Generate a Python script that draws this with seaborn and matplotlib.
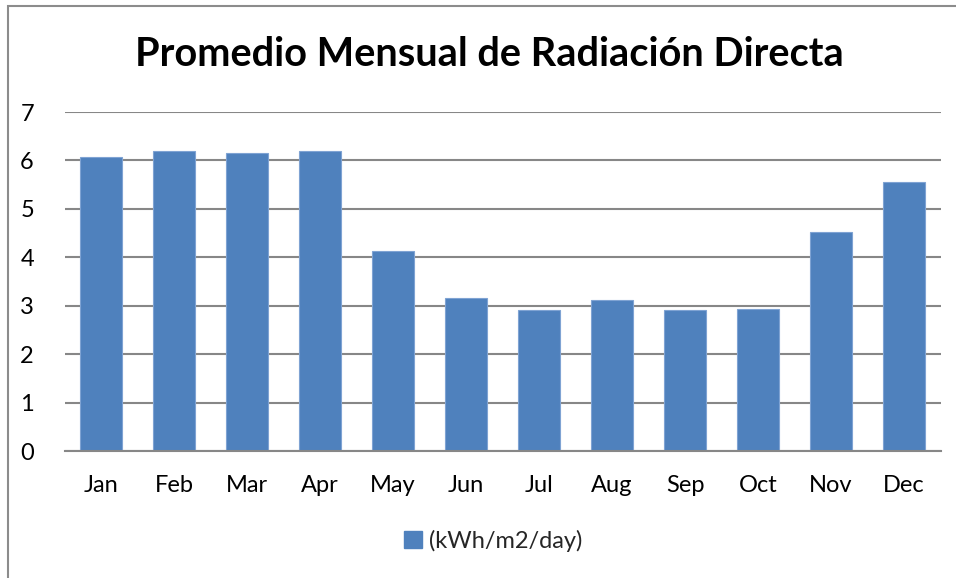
import matplotlib
matplotlib.use("Agg")
import matplotlib.pyplot as plt
import seaborn as sns
import pandas as pd
from matplotlib.patches import Rectangle, Patch

months = ["Jan", "Feb", "Mar", "Apr", "May", "Jun", "Jul", "Aug", "Sep", "Oct", "Nov", "Dec"]
values = [6.08, 6.20, 6.16, 6.19, 4.13, 3.16, 2.91, 3.12, 2.91, 2.93, 4.53, 5.55]
series_name = "(kWh/m2/day)"
title = "Promedio Mensual de Radiación Directa"
yticks = [0, 1, 2, 3, 4, 5, 6, 7]

sns.set_theme(style="white")
plt.rcParams["font.family"] = ["Lato", "DejaVu Sans"]

df = pd.DataFrame({"month": months, "value": values})

fig = plt.figure(figsize=(9.56, 5.78), dpi=100)
ax = fig.add_axes([64.5 / 956, 1 - 451 / 578, (940.5 - 64.5) / 956, (451 - 112) / 578])

bar_color = "#4F81BD"
sns.barplot(data=df, x="month", y="value", color=bar_color, width=0.58,
            saturation=1, ax=ax, edgecolor="#7FA3D3", linewidth=0.8)

ax.set_ylim(0, 7)
ax.set_yticks(yticks)
ax.set_yticklabels([str(t) for t in yticks], fontsize=17, color="black")
ax.set_xticklabels(months, fontsize=17, color="black")
ax.set_xlabel("")
ax.set_ylabel("")
ax.yaxis.grid(True, color="#878787", linewidth=1.5)
ax.set_axisbelow(True)
for s in ["top", "right", "left"]:
    ax.spines[s].set_visible(False)
ax.spines["bottom"].set_color("#878787")
ax.spines["bottom"].set_linewidth(1.5)
ax.tick_params(axis="y", length=0, pad=22)
ax.tick_params(axis="x", length=0, pad=17)

fig.text(489 / 956, 1 - 55 / 578, title, ha="center", va="center",
         fontsize=28.6, fontweight="bold", color="black")

handle = Patch(facecolor=bar_color, edgecolor=bar_color)
fig.legend([handle], [series_name], loc="center", bbox_to_anchor=(493 / 956, 1 - 541 / 578),
           frameon=False, fontsize=17, handlelength=0.75, handleheight=0.75, handletextpad=0.3)

fig.patches.append(Rectangle((8 / 956, -0.01), 1.0, 1 - 6 / 578 + 0.01,
                             transform=fig.transFigure, fill=False,
                             edgecolor="#8C8C8C", linewidth=1.5, zorder=10))

fig.savefig("out.png", dpi=100)
